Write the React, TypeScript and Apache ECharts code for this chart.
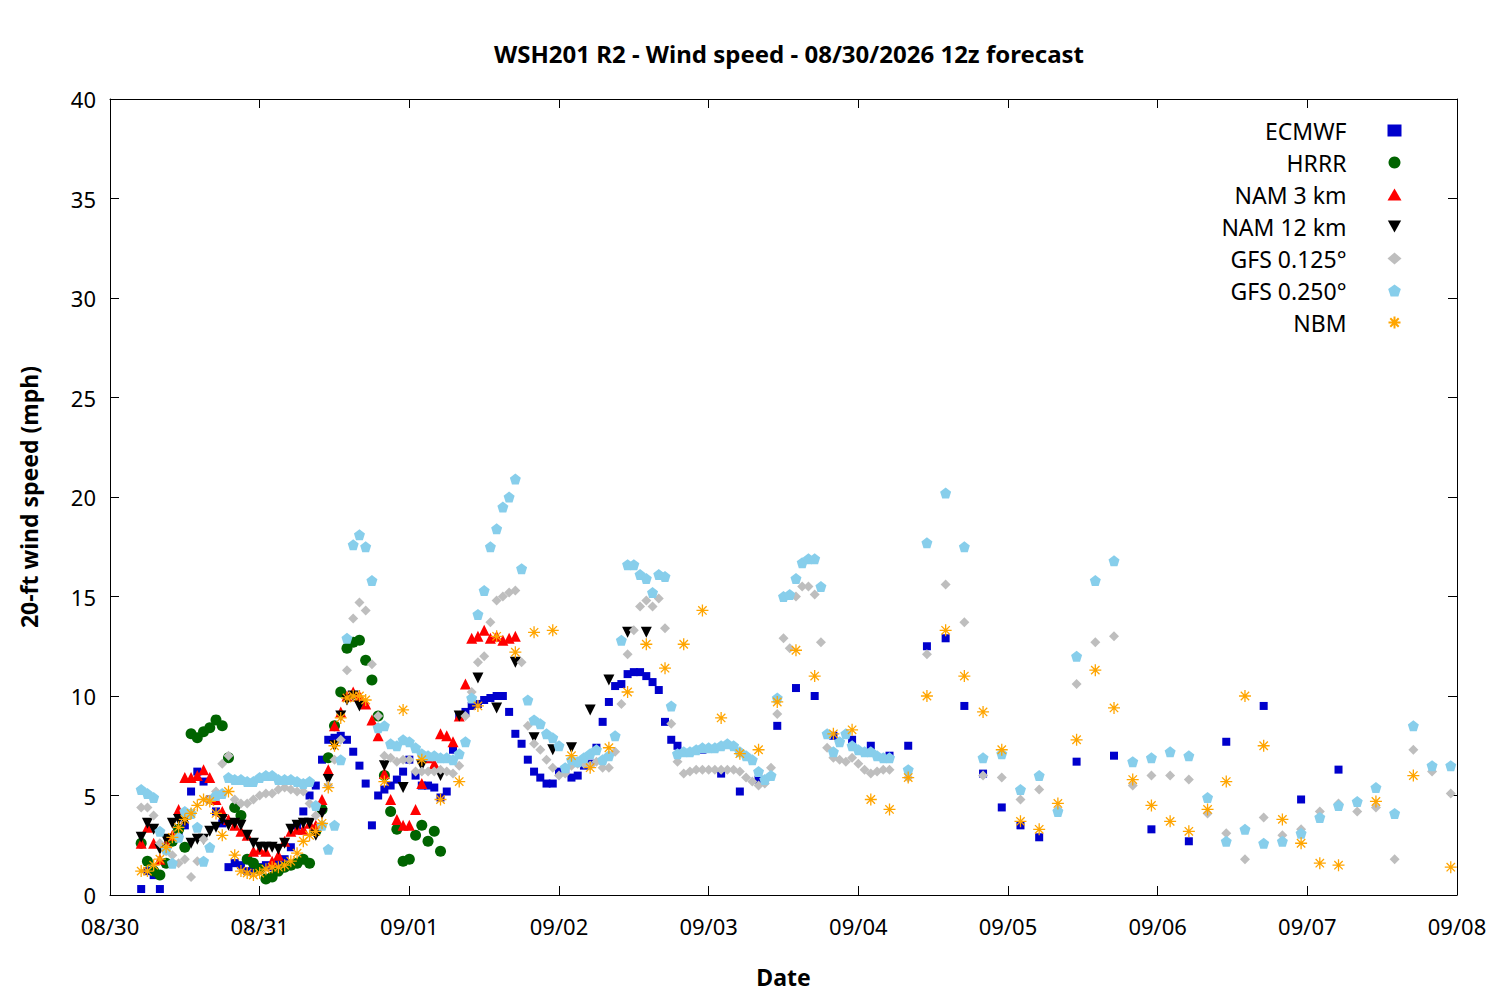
import { useEffect, useRef } from 'react';
import * as echarts from 'echarts';

// hours since 08/30 00:00
const dateLabels = ['08/30', '08/31', '09/01', '09/02', '09/03', '09/04', '09/05', '09/06', '09/07', '09/08'];

const ecmwfHourly = [0.3, 1.2, 1.0, 0.3, 1.6, 2.8, 3.0, 3.5, 5.2, 6.2, 5.7, 4.8, 4.2, 3.6, 1.4, 1.6, 1.5, 1.2, 1.3, 1.4, 1.5, 1.4, 1.6, 1.8, 2.4, 3.5, 4.2, 5.0, 5.5, 6.8, 7.8, 7.9, 8.0, 7.8, 7.2, 6.5, 5.6, 3.5, 5.0, 5.3, 5.5, 5.8, 6.2, 6.8, 6.0, 5.5, 5.5, 5.4, 4.9, 5.2, 7.3, 9.0, 9.2, 9.5, 9.6, 9.8, 9.9, 10.0, 10.0, 9.2, 8.1, 7.6, 6.8, 6.2, 5.9, 5.6, 5.6, 6.2, 6.2, 5.9, 6.0, 6.5, 6.6, 7.4, 8.7, 9.7, 10.5, 10.6, 11.1, 11.2, 11.2, 11.0, 10.7, 10.3, 8.7, 7.8, 7.5];
const ecmwf3h = [7.3, 6.1, 5.2, 5.8, 8.5, 10.4, 10.0, 8.0, 7.8, 7.5, 7.0, 7.5, 12.5, 12.9, 9.5, 6.1, 4.4, 3.5, 2.9];
const ecmwf6h = [6.7, 7.0, 3.3, 2.7, 7.7, 9.5, 4.8, 6.3];

const hrrrHourly = [2.6, 1.7, 1.2, 1.0, 1.6, 2.7, 3.3, 2.4, 8.1, 7.9, 8.2, 8.4, 8.8, 8.5, 6.9, 4.4, 4.0, 1.8, 1.6, 1.3, 0.8, 0.9, 1.2, 1.4, 1.5, 1.6, 1.8, 1.6, 3.2, 4.3, 6.9, 8.5, 10.2, 12.4, 12.7, 12.8, 11.8, 10.8, 9.0, 6.0, 4.2, 3.3, 1.7, 1.8, 3.0, 3.5, 2.7, 3.2, 2.2];

const nam3Hourly = [2.6, 3.4, 2.6, 1.8, 2.6, 3.0, 4.3, 5.9, 5.9, 6.0, 6.3, 5.9, 4.8, 4.2, 3.8, 3.5, 3.2, 3.0, 2.2, 2.3, 2.2, 1.7, 2.0, 2.7, 3.2, 3.3, 3.3, 3.6, 3.5, 4.8, 6.3, 8.5, 9.2, 10.0, 10.2, 10.0, 9.6, 8.8, 8.0, 6.1, 4.8, 3.8, 3.5, 3.5, 4.3, 5.6, 6.9, 6.6, 8.1, 8.0, 7.7, 9.0, 10.6, 12.9, 13.0, 13.3, 12.9, 13.0, 12.8, 12.9, 13.0];

const nam12Hourly = [2.9, 3.6, 3.3, 2.3, 2.8, 3.6, 3.8, 3.7, 2.6, 2.8, 2.8, 3.2, 3.4, 3.8, 3.5, 3.6, 3.5, 3.0, 2.6, 2.4, 2.4, 2.4, 2.3, 2.6, 3.3, 3.5, 3.6, 3.6, 3.0, 4.1, 5.8, 7.5, 9.0, 9.8, 10.0, 9.5];
const nam12_3h = [6.5, 5.4, 6.5, 6.0, 9.0, 10.9, 9.4, 11.7, 7.9, 7.3, 7.4, 9.3, 10.8, 13.2, 13.2];

const gfs125Hourly = [4.4, 4.4, 4.0, 2.6, 2.2, 2.0, 1.6, 1.8, 0.9, 1.7, 2.8, 4.8, 5.2, 6.6, 7.0, 4.8, 4.6, 4.6, 4.8, 5.0, 5.1, 5.1, 5.3, 5.4, 5.3, 5.2, 5.2, 4.6, 4.0, 3.5, 5.5, 6.8, 7.8, 11.3, 13.9, 14.7, 14.3, 11.6, 9.0, 7.0, 6.9, 6.7, 6.8, 6.8, 6.2, 6.2, 6.2, 6.2, 6.3, 6.2, 6.1, 6.5, 9.0, 10.2, 11.7, 12.0, 13.7, 14.8, 15.0, 15.2, 15.3, 11.7, 8.5, 7.6, 7.3, 6.8, 6.4, 6.0, 6.1, 6.5, 6.6, 6.6, 6.5, 6.7, 6.4, 6.4, 7.2, 9.6, 12.1, 13.3, 14.5, 14.8, 14.5, 14.9, 13.4, 8.6, 6.7, 6.1, 6.2, 6.3, 6.3, 6.3, 6.3, 6.3, 6.3, 6.3, 6.2, 5.9, 5.7, 5.5, 5.6, 6.4, 9.1, 12.9, 12.4, 15.0, 15.5, 15.5, 15.1, 12.7, 7.4, 6.9, 6.8, 6.7, 6.9, 6.6, 6.3, 6.1, 6.2, 6.3, 6.3];
const gfs125_3h = [5.9, 12.1, 15.6, 13.7, 6.0, 5.9, 4.8, 5.3, 4.3, 10.6, 12.7, 13.0, 5.5, 6.0, 6.0, 5.8, 4.1, 3.1, 1.8, 3.9, 3.0, 3.3, 4.2, 4.6, 4.2, 4.4, 1.8, 7.3, 6.2, 5.1];

const gfs250Hourly = [5.3, 5.1, 4.9, 3.2, 2.3, 1.6, 2.9, 4.2, 4.1, 3.4, 1.7, 2.4, 5.0, 5.1, 5.9, 5.8, 5.8, 5.7, 5.7, 5.9, 6.0, 6.0, 5.8, 5.8, 5.8, 5.7, 5.6, 5.7, 4.5, 3.5, 2.3, 3.5, 6.8, 12.9, 17.6, 18.1, 17.5, 15.8, 8.4, 8.5, 7.6, 7.5, 7.8, 7.7, 7.4, 7.1, 7.0, 7.0, 6.9, 6.9, 6.8, 7.1, 7.7, 9.9, 14.1, 15.3, 17.5, 18.4, 19.5, 20.0, 20.9, 16.4, 9.8, 8.8, 8.6, 8.1, 7.9, 7.5, 6.4, 6.8, 6.7, 6.9, 7.1, 7.3, 6.8, 7.0, 8.0, 12.8, 16.6, 16.6, 16.1, 15.9, 15.2, 16.1, 16.0, 9.5, 7.1, 7.2, 7.2, 7.3, 7.4, 7.4, 7.4, 7.5, 7.6, 7.5, 7.2, 7.0, 6.8, 6.2, 5.8, 6.0, 9.9, 15.0, 15.1, 15.9, 16.7, 16.9, 16.9, 15.5, 8.1, 7.2, 7.7, 8.1, 7.5, 7.3, 7.2, 7.2, 7.0, 6.9, 6.9];
const gfs250_3h = [6.3, 17.7, 20.2, 17.5, 6.9, 7.1, 5.3, 6.0, 4.2, 12.0, 15.8, 16.8, 6.7, 6.9, 7.2, 7.0, 4.9, 2.7, 3.3, 2.6, 2.7, 3.1, 3.9, 4.5, 4.7, 5.4, 4.1, 8.5, 6.5, 6.5];

const nbmHourly = [1.2, 1.2, 1.5, 1.8, 2.4, 2.9, 3.4, 3.8, 4.1, 4.5, 4.8, 4.7, 4.1, 3.0, 5.2, 2.0, 1.2, 1.1, 1.0, 1.1, 1.3, 1.4, 1.4, 1.5, 1.7, 2.1, 2.7, 3.0, 3.2, 3.6, 5.4, 7.5, 8.9, 9.9, 10.0, 10.0, 9.8];
const nbm3h = [5.7, 9.3, 6.8, 4.8, 5.7, 9.5, 13.0, 12.2, 13.2, 13.3, 7.0, 6.4, 7.4, 10.2, 12.6, 11.4, 12.6, 14.3, 8.9, 7.1, 7.3, 9.7, 12.3, 11.0, 8.1, 8.3, 4.8, 4.3, 5.9, 10.0, 13.3, 11.0, 9.2, 7.3, 3.7, 3.3, 4.6, 7.8, 11.3, 9.4, 5.8, 4.5, 3.7, 3.2, 4.3, 5.7, 10.0, 7.5, 3.8, 2.6, 1.6, 1.5, null, 4.7, null, 6.0, null, 1.4];

const steps = (start: number, step: number, values: (number | null)[]) =>
    values.map((v, i) => [start + i * step, v]).filter(p => p[1] !== null);

const pentagon = 'path://M0,-1L0.951,-0.309L0.588,0.809L-0.588,0.809L-0.951,-0.309Z';
const asterisk = 'path://M0,-1L0,1M-1,0L1,0M-0.7,-0.7L0.7,0.7M-0.7,0.7L0.7,-0.7';
const downTriangle = 'path://M-1,-0.9L1,-0.9L0,0.9Z';

const font = '"Noto Sans", "Open Sans", sans-serif';

export default function App() {
    const chartRef = useRef<HTMLDivElement>(null);

    useEffect(() => {
        document.body.style.margin = '0';
        if (!chartRef.current) return;
        const chart = echarts.init(chartRef.current, undefined, { renderer: 'svg' });

        const seriesList = [
            { name: 'ECMWF', data: [...steps(5, 1, ecmwfHourly), ...steps(95, 3, ecmwf3h), ...steps(155, 6, ecmwf6h)], symbol: 'rect', symbolSize: 8, color: '#0000cc' },
            { name: 'HRRR', data: steps(5, 1, hrrrHourly), symbol: 'circle', symbolSize: 11, color: '#006400' },
            { name: 'NAM 3 km', data: steps(5, 1, nam3Hourly), symbol: 'triangle', symbolSize: 11, color: '#ff0000' },
            { name: 'NAM 12 km', data: [...steps(5, 1, nam12Hourly), ...steps(44, 3, nam12_3h)], symbol: downTriangle, symbolSize: 11, color: '#000000' },
            { name: 'GFS 0.125°', data: [...steps(5, 1, gfs125Hourly), ...steps(128, 3, gfs125_3h)], symbol: 'diamond', symbolSize: 10, color: '#bebebe' },
            { name: 'GFS 0.250°', data: [...steps(5, 1, gfs250Hourly), ...steps(128, 3, gfs250_3h)], symbol: pentagon, symbolSize: 11, color: '#87ceeb' },
            { name: 'NBM', data: [...steps(5, 1, nbmHourly), ...steps(44, 3, nbm3h)], symbol: asterisk, symbolSize: 12, color: '#ffa500', stroke: true },
        ];

        const axisCommon = {
            axisLine: { show: true, onZero: false, lineStyle: { color: '#000', width: 1 } },
            splitLine: { show: false },
            axisTick: { show: true, inside: true, length: 9, lineStyle: { color: '#000' } },
        };

        chart.setOption({
            animation: false,
            title: {
                text: 'WSH201 R2 - Wind speed - 08/30/2026 12z forecast',
                left: 784,
                textAlign: 'center',
                top: 36,
                textStyle: { fontFamily: font, fontSize: 24, fontWeight: 'bold', color: '#000' },
            },
            legend: {
                orient: 'vertical',
                right: 92,
                top: 114,
                align: 'right',
                itemGap: 9,
                itemWidth: 14,
                itemHeight: 12,
                textStyle: { fontFamily: font, fontSize: 23, color: '#000', padding: [0, 36, 0, 0] },
                data: seriesList.map(s => s.name),
            },
            grid: { left: 110, right: 43, top: 99, bottom: 105 },
            xAxis: [
                {
                    type: 'value', min: 0, max: 216, interval: 24,
                    name: 'Date', nameLocation: 'middle', nameGap: 70,
                    nameTextStyle: { fontFamily: font, fontSize: 23, fontWeight: 'bold', color: '#000' },
                    axisLabel: { fontFamily: font, fontSize: 22, color: '#000', margin: 20, formatter: (v: number) => dateLabels[v / 24] },
                    ...axisCommon,
                },
                { type: 'value', min: 0, max: 216, interval: 24, position: 'top', axisLabel: { show: false }, ...axisCommon },
            ],
            yAxis: [
                {
                    type: 'value', min: 0, max: 40, interval: 5,
                    name: '20-ft wind speed (mph)', nameLocation: 'middle', nameGap: 70,
                    nameTextStyle: { fontFamily: font, fontSize: 23, fontWeight: 'bold', color: '#000' },
                    axisLabel: { fontFamily: font, fontSize: 22, color: '#000', margin: 14 },
                    ...axisCommon,
                },
                { type: 'value', min: 0, max: 40, interval: 5, position: 'right', axisLabel: { show: false }, ...axisCommon },
            ],
            series: seriesList.map(s => ({
                name: s.name,
                type: 'scatter',
                data: s.data,
                symbol: s.symbol,
                symbolSize: s.symbolSize,
                itemStyle: (s as any).stroke
                    ? { color: 'none', borderColor: s.color, borderWidth: 1.3, opacity: 1 }
                    : { color: s.color, opacity: 1 },
            })),
        });

        return () => chart.dispose();
    }, []);

    return <div ref={chartRef} style={{ width: 1500, height: 1000 }} />;
}
